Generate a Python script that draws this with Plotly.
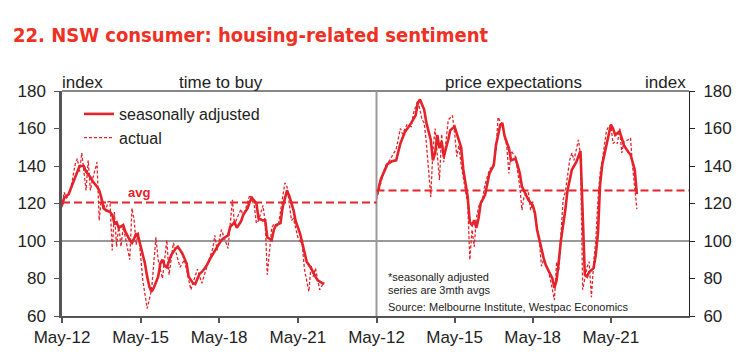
import plotly.graph_objects as go

# ---------------- data ----------------
left_sa_dates = ["2012-05","2012-06","2012-08","2012-10","2012-12","2013-01","2013-03","2013-04","2013-06","2013-07",
    "2013-09","2013-10","2013-11","2013-12","2014-01","2014-03","2014-04","2014-05","2014-06","2014-07",
    "2014-09","2014-10","2014-12","2015-01","2015-02","2015-03","2015-04","2015-06","2015-07","2015-08",
    "2015-09","2015-10","2015-11","2016-01","2016-02","2016-03","2016-04","2016-05","2016-06","2016-07",
    "2016-09","2016-10","2016-12","2017-02","2017-03","2017-05","2017-06","2017-08","2017-09","2017-11",
    "2018-01","2018-03","2018-04","2018-06","2018-07","2018-09","2018-10","2018-12","2019-01","2019-03",
    "2019-04","2019-06","2019-07","2019-08","2019-10","2019-11","2020-01","2020-02","2020-03","2020-05",
    "2020-06","2020-07","2020-09","2020-10","2020-12","2021-01","2021-03","2021-04","2021-06","2021-07",
    "2021-08","2021-09","2021-11","2021-12","2022-01","2022-02","2022-04","2022-05"]
left_sa_vals = [119,123,125,131,138,140,140,137,134,132,
    129,127,123,117.5,116.5,115.5,114,109.5,110,107,
    108.5,105,100.5,99,101.5,104,102,93.5,88,81,
    75.5,73,75,81,88,90,87,86,89.5,92.5,
    96,97,93.5,88,81,77.5,77,82.5,83.5,86.5,
    91,95,97,100.5,101.5,103,107.5,110,107,110.5,
    114,117.5,121,123,120,112,111,111,102,100.5,
    106,108.5,109.5,118,127,124,116.5,110.5,104,99,
    92.5,89,85.5,83,81,79,77.5,77]

left_act_dates = ["2012-05","2012-06","2012-07","2012-08","2012-09","2012-10","2012-11","2012-12","2013-01","2013-02",
    "2013-03","2013-04","2013-05","2013-06","2013-07","2013-09","2013-10","2013-11","2013-12","2014-01",
    "2014-02","2014-03","2014-04","2014-05","2014-06","2014-07","2014-08","2014-09","2014-10","2014-12",
    "2015-01","2015-02","2015-03","2015-04","2015-06","2015-08","2015-10","2015-12","2016-01","2016-03",
    "2016-05","2016-06","2016-08","2016-11","2017-01","2017-04","2017-07","2017-09","2017-12","2018-02",
    "2018-03","2018-04","2018-06","2018-08","2018-09","2018-11","2018-12","2019-01","2019-03","2019-04",
    "2019-07","2019-09","2019-10","2019-11","2020-01","2020-02","2020-03","2020-05","2020-06","2020-08",
    "2020-11","2020-12","2021-02","2021-03","2021-05","2021-07","2021-08","2021-10","2021-11","2021-12",
    "2022-01","2022-03","2022-05"]
left_act_vals = [118,126,123,124,128,134,141,144,137,147,
    138,127,143,127,133,142,111,123,120,116,
    121,121,95,115.5,97,108.5,97,107.5,102,90,
    117.5,111,98,105,79,64,74,102,90,80,
    100.5,82,99,86,90,74,85,77.5,89,96,
    103,95,106,100,96,122,108.5,112,117,113,
    124.5,119,109.5,111,119,110,82,107,109,108,
    131,129,111,112,102,98,85,73,87,81,
    85.5,74,78]

right_sa_dates = ["2012-05","2012-07","2012-10","2012-12","2013-02","2013-04","2013-06","2013-08","2013-09","2013-11",
    "2013-12","2014-01","2014-03","2014-04","2014-06","2014-07","2014-08","2014-09","2014-10","2014-11",
    "2014-12","2015-02","2015-03","2015-05","2015-06","2015-08","2015-09","2015-11","2015-12","2016-01",
    "2016-02","2016-03","2016-04","2016-05","2016-07","2016-08","2016-09","2016-11","2016-12","2017-02",
    "2017-03","2017-04","2017-06","2017-07","2017-09","2017-10","2017-11","2017-12","2018-02","2018-03",
    "2018-05","2018-06","2018-07","2018-09","2018-10","2018-11","2018-12","2019-02","2019-03","2019-04",
    "2019-05","2019-06","2019-08","2019-09","2019-11","2020-01","2020-03","2020-04","2020-05","2020-06",
    "2020-07","2020-09","2020-10","2020-11","2020-12","2021-01","2021-03","2021-05","2021-06","2021-07",
    "2021-09","2021-10","2021-11","2022-01","2022-02","2022-04","2022-05"]
right_sa_vals = [124,133,141,142.5,143,152,158,161,163,167,
    173.5,175.5,170,163,154,143,147,156.5,149.5,153,
    145,154,159,161,157.5,150,138,123.5,110,108.5,
    111,107,112,120,124.5,130,136,140.5,151,162,
    163,156,149.5,143,144,140.5,136,129,123.5,122,
    119,115,106,95,91,87,84.5,80,75,79,
    89,100.5,116.5,127,138,142,148,115,82,81,
    83.5,85.5,92.5,104,130,141,152,162,160,156.5,
    158.5,155,151,147.5,146,138,125]

right_act_dates = ["2012-05","2012-07","2012-09","2012-11","2013-02","2013-04","2013-05","2013-07","2013-09","2013-10",
    "2013-12","2014-02","2014-03","2014-04","2014-06","2014-07","2014-08","2014-10","2014-11","2014-12",
    "2015-02","2015-04","2015-05","2015-06","2015-07","2015-08","2015-09","2015-11","2015-12","2016-01",
    "2016-02","2016-03","2016-04","2016-06","2016-07","2016-09","2016-11","2016-12","2017-01","2017-03",
    "2017-05","2017-06","2017-07","2017-09","2017-11","2017-12","2018-01","2018-03","2018-04","2018-05",
    "2018-06","2018-08","2018-09","2018-10","2018-12","2019-01","2019-03","2019-04","2019-05","2019-06",
    "2019-07","2019-08","2019-10","2019-11","2019-12","2020-02","2020-03","2020-04","2020-05","2020-06",
    "2020-07","2020-08","2020-09","2020-10","2020-11","2020-12","2021-01","2021-03","2021-04","2021-05",
    "2021-06","2021-07","2021-08","2021-09","2021-10","2021-11","2022-01","2022-02","2022-03","2022-04",
    "2022-05"]
right_act_vals = [122,131,140,143,149,160,157,162,161,168,
    175,164.5,163,152,123.5,148,160,132.5,157,142,
    164.5,167,158,145,151,140.5,133,120,90,106,
    97,112,118,123.5,130,138,141,148.5,166,161,
    151,136,148,145,129,116.5,124,126,116.5,121,
    113,100.5,86.5,90,85,80,68.5,89,84,104,
    122,126,143,147,143,154,146,74,80,86,
    89,70,88,100,122,136,143,159,161,162,
    152,153,152,160,147,153,154,155,140,130,
    117]

avg_left = 120.5
avg_right = 127
ref_level = 100

x_tick_vals = ["2012-05-01", "2015-05-01", "2018-05-01", "2021-05-01"]
x_tick_text = ["May-12", "May-15", "May-18", "May-21"]
x_range = ["2012-05-01", "2024-05-01"]
y_range = [60, 180]

# ---------------- styling ----------------
RED = "#E4232B"
TITLE_RED = "#EE3124"
TXT = "#222222"
FONT = "Liberation Sans, Arial, sans-serif"
OFF = 8                       # page body margin offset
W, H = 731, 344               # figure size (fits inside the page body)
PL, PT, PR, PB = 62, 91, 689, 316   # plot area in page pixels
L, T = PL - OFF, PT - OFF
R, B = W - (PR - OFF), H - (PB - OFF)
PW, PH = W - L - R, H - T - B
SPLIT = 376.5

def px(xp):
    return (xp - PL) / PW

def py(yp):
    return (PB - yp) / PH

def d(lst):
    return [s + "-01" for s in lst]

fig = go.Figure()
fig.add_trace(go.Scatter(x=d(left_sa_dates), y=left_sa_vals, mode="lines", name="seasonally adjusted",
                         line=dict(color=RED, width=2.6), xaxis="x", yaxis="y", legendrank=1))
fig.add_trace(go.Scatter(x=d(left_act_dates), y=left_act_vals, mode="lines", name="actual",
                         line=dict(color=RED, width=1.3, dash="3px,2px"), xaxis="x", yaxis="y", legendrank=2))
fig.add_trace(go.Scatter(x=d(right_sa_dates), y=right_sa_vals, mode="lines", showlegend=False,
                         line=dict(color=RED, width=2.6), xaxis="x2", yaxis="y2"))
fig.add_trace(go.Scatter(x=d(right_act_dates), y=right_act_vals, mode="lines", showlegend=False,
                         line=dict(color=RED, width=1.3, dash="3px,2px"), xaxis="x2", yaxis="y2"))

dom_l = [0, px(SPLIT)]
dom_r = [px(SPLIT), 1]

xcommon = dict(type="date", range=x_range, tickvals=x_tick_vals, ticktext=x_tick_text,
               showline=True, linecolor="#555555", linewidth=2, ticks="outside", ticklen=5,
               tickcolor="#555555", tickwidth=1.5, showgrid=False, zeroline=False, automargin=False,
               tickfont=dict(family=FONT, size=17, color=TXT), ticklabelstandoff=0)
ycommon = dict(domain=[0, 1], range=y_range, dtick=20, showline=True, ticks="outside", ticklen=5,
               showgrid=False, zeroline=False, automargin=False,
               tickfont=dict(family=FONT, size=17, color=TXT), ticklabelstandoff=5)
fig.update_layout(
    xaxis=dict(domain=dom_l, anchor="y", **xcommon),
    xaxis2=dict(domain=dom_r, anchor="y2", **xcommon),
    yaxis=dict(anchor="x", linecolor="#555555", linewidth=2.5, tickcolor="#555555", **ycommon),
    yaxis2=dict(anchor="x2", side="right", linecolor="#222222", linewidth=1, tickcolor="#222222", **ycommon),
)

shapes = [
    dict(type="line", xref="paper", yref="paper", x0=0, x1=1, y0=1, y1=1,
         line=dict(color="#111111", width=1)),
    dict(type="line", xref="paper", yref="paper", x0=px(SPLIT), x1=px(SPLIT), y0=0, y1=1,
         line=dict(color="#999999", width=2)),
    dict(type="line", xref="paper", yref="y", x0=0, x1=1, y0=ref_level, y1=ref_level,
         line=dict(color="#777777", width=1.5), layer="below"),
    dict(type="line", xref="x domain", yref="y", x0=0, x1=1, y0=avg_left, y1=avg_left,
         line=dict(color=RED, width=2, dash="8px,4px")),
    dict(type="line", xref="x2 domain", yref="y2", x0=0, x1=1, y0=avg_right, y1=avg_right,
         line=dict(color=RED, width=2, dash="8px,4px")),
]

ann = []
def add_text(text, x, y, size, color=TXT, xanchor="center", bold=False, family=FONT):
    ann.append(dict(text=("<b>%s</b>" % text) if bold else text, xref="paper", yref="paper",
                    x=px(x), y=py(y), xanchor=xanchor, yanchor="middle", showarrow=False,
                    font=dict(family=family, size=size, color=color)))

add_text("index", 82, 82, 17)
add_text("time to buy", 221, 82, 17)
add_text("price expectations", 513, 82, 17)
add_text("index", 665, 82, 17)
add_text("avg", 139, 192, 13, color=RED, bold=True)
add_text("*seasonally adjusted", 386, 277, 11, xanchor="left")
add_text("series are 3mth avgs", 386, 290, 11, xanchor="left")
add_text("Source: Melbourne Institute, Westpac Economics", 386, 307, 11, xanchor="left")

fig.update_layout(
    width=W, height=H,
    margin=dict(l=L, r=R, t=T, b=B, autoexpand=False),
    paper_bgcolor="white", plot_bgcolor="white",
    shapes=shapes, annotations=ann,
    title=dict(text="<b>22. NSW consumer: housing-related sentiment</b>", x=(13 - OFF) / W, xanchor="left",
               xref="container", y=(H - (35 - OFF)) / H, yanchor="middle", yref="container",
               font=dict(family="DejaVu Sans Condensed, Liberation Sans Narrow, Liberation Sans", size=20,
                         color=TITLE_RED)),
    legend=dict(x=px(79), y=py(97), xanchor="left", yanchor="top", bgcolor="rgba(0,0,0,0)",
                font=dict(family=FONT, size=16, color=TXT), traceorder="normal"),
    showlegend=True,
)

fig.write_html("out.html")
